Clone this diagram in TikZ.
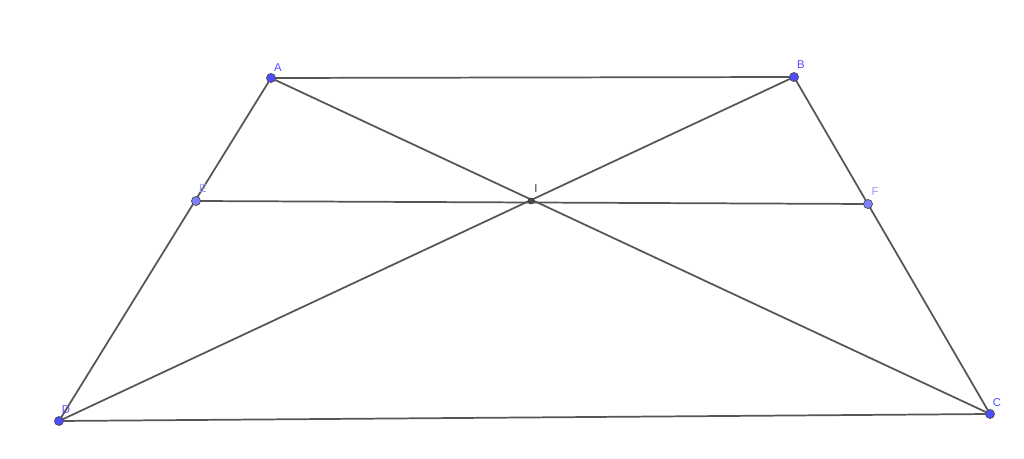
\documentclass[tikz,border=0pt]{standalone}
\usepackage{fontspec}
\setmainfont{Liberation Sans}
\definecolor{segc}{HTML}{555555}
\definecolor{ptblue}{HTML}{4D4DFF}
\definecolor{ptlight}{HTML}{7F7FFF}
\definecolor{lblblue}{HTML}{4D4DFF}
\definecolor{lbllight}{HTML}{9999FF}
\tikzset{
  seg/.style={draw=segc, line width=1.3pt},
  ptA/.style={circle, fill=ptblue, draw=black!70, line width=0.5pt, inner sep=0pt, minimum size=6.8pt},
  ptE/.style={circle, fill=ptlight, draw=black!70, line width=0.5pt, inner sep=0pt, minimum size=6.8pt},
  ptI/.style={circle, fill=black!70, draw=black!80, line width=0.4pt, inner sep=0pt, minimum size=4.5pt},
  lbl/.style={text=lblblue, font=\fontsize{8.5}{9}\selectfont, inner sep=0pt},
  lbll/.style={text=lbllight, font=\fontsize{8.5}{9}\selectfont, inner sep=0pt},
  lbli/.style={text=black!80, font=\fontsize{8.5}{9}\selectfont, inner sep=0pt}
}
\begin{document}
\begin{tikzpicture}[x=0.75pt,y=-0.75pt]
\useasboundingbox[fill=white] (0,0) rectangle (1024,459);
\coordinate (A) at (271,78);
\coordinate (B) at (794,77);
\coordinate (C) at (990,414);
\coordinate (D) at (59,421);
\coordinate (E) at (196,201);
\coordinate (F) at (868,204);
\coordinate (I) at (531,201);
\draw[seg] (A) -- (B) -- (C) -- (D) -- cycle;
\draw[seg] (A) -- (C);
\draw[seg] (B) -- (D);
\draw[seg] (E) -- (F);
\node[ptA] (pA) at (A) {};
\node[ptA] (pB) at (B) {};
\node[ptA] (pC) at (C) {};
\node[ptA] (pD) at (D) {};
\node[ptE] (pE) at (E) {};
\node[ptE] (pF) at (F) {};
\node[ptI] (pI) at (I) {};
\node[lbl] (lA) at (278,68) {A};
\node[lbl] (lB) at (801,65) {B};
\node[lbl] (lC) at (997,403) {C};
\node[lbl] (lD) at (66,410) {D};
\node[lbll] (lE) at (203,189) {E};
\node[lbll] (lF) at (875,192) {F};
\node[lbli] (lI) at (536,189) {I};
\end{tikzpicture}
\end{document}
